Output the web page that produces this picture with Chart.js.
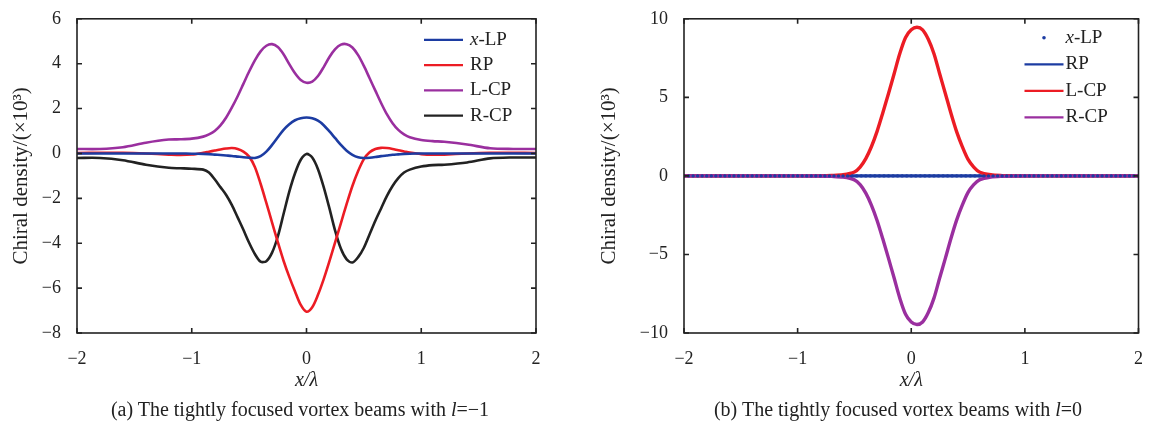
<!DOCTYPE html>
<html>
<head>
<meta charset="utf-8">
<script src="https://cdn.jsdelivr.net/npm/chart.js@4.4.1/dist/chart.umd.min.js"></script>
<style>
  body { margin: 0; background: #fff; }
  #wrap { position: relative; width: 1150px; height: 421px; overflow: hidden; }
  canvas { position: absolute; top: 0; }
  .cap { position: absolute; top: 397px; transform: translateX(-50%); white-space: nowrap;
         font-family: 'Liberation Serif', 'Times New Roman', serif; font-size: 20px; color: #222; line-height: 24px; }
</style>
</head>
<body>
<div id="wrap">
  <canvas id="chartA" width="575" height="400" style="left:0"></canvas>
  <canvas id="chartB" width="575" height="400" style="left:575px"></canvas>
  <div class="cap" style="left:300px">(a) The tightly focused vortex beams with <i>l</i>=−1</div>
  <div class="cap" style="left:898px">(b) The tightly focused vortex beams with <i>l</i>=0</div>
</div>
<script>
// (a) l = -1
var xA = [-2, -1.8, -1.6, -1.4, -1.2, -1.1, -1.0,
          -0.9, -0.85, -0.8, -0.75, -0.7, -0.65, -0.6, -0.55, -0.5, -0.45, -0.4, -0.35, -0.3, -0.25, -0.2, -0.15, -0.1, -0.05, 0,
          0.05, 0.1, 0.15, 0.2, 0.25, 0.3, 0.35, 0.4, 0.45, 0.5, 0.55, 0.6, 0.65, 0.7, 0.75, 0.8, 0.85, 0.9,
          1.0, 1.1, 1.2, 1.4, 1.6, 1.8, 2.0];
var xlpA = [0, 0, 0, 0, 0, 0, -0.01,
            -0.02, -0.03, -0.05, -0.07, -0.09, -0.11, -0.14, -0.17, -0.19, -0.2, -0.12, 0.08, 0.38, 0.72, 1.05, 1.3, 1.48, 1.57, 1.6,
            1.57, 1.46, 1.26, 0.98, 0.68, 0.38, 0.12, -0.06, -0.17, -0.2, -0.19, -0.16, -0.12, -0.09, -0.06, -0.04, -0.02, -0.01,
            0, 0, 0, 0, 0, 0, 0];
var rpA = [0.02, 0.03, 0.03, 0, -0.05, -0.07, -0.05,
           0.03, 0.08, 0.13, 0.18, 0.22, 0.24, 0.2, 0.08, -0.14, -0.6, -1.35, -2.2, -3.08, -3.95, -4.78, -5.5, -6.15, -6.75, -7.05,
           -6.85, -6.3, -5.6, -4.8, -3.95, -3.1, -2.25, -1.45, -0.78, -0.25, 0.05, 0.2, 0.25, 0.24, 0.2, 0.14, 0.09, 0.04,
           -0.03, -0.06, -0.05, 0, 0.03, 0.03, 0.02];
var lcpA = [0.2, 0.2, 0.28, 0.48, 0.62, 0.63, 0.66,
            0.75, 0.85, 1.0, 1.25, 1.6, 2.05, 2.55, 3.1, 3.65, 4.15, 4.55, 4.8, 4.87, 4.74, 4.42, 3.98, 3.57, 3.27, 3.15,
            3.2, 3.45, 3.85, 4.3, 4.65, 4.85, 4.87, 4.72, 4.38, 3.9, 3.35, 2.8, 2.25, 1.75, 1.35, 1.05, 0.85, 0.72,
            0.6, 0.55, 0.52, 0.4, 0.23, 0.2, 0.2];
var rcpA = [-0.2, -0.2, -0.3, -0.5, -0.64, -0.66, -0.68,
            -0.72, -0.85, -1.15, -1.5, -1.85, -2.3, -2.85, -3.4, -3.98, -4.48, -4.82, -4.8, -4.42, -3.7, -2.7, -1.7, -0.88, -0.28, -0.02,
            -0.18, -0.7, -1.5, -2.45, -3.45, -4.25, -4.72, -4.86, -4.62, -4.2, -3.6, -3.0, -2.45, -1.9, -1.45, -1.1, -0.85, -0.72,
            -0.58, -0.52, -0.5, -0.4, -0.22, -0.18, -0.18];

// (b) l = 0
var xB = [-2, -1.5, -1, -0.8, -0.7, -0.6, -0.5, -0.45, -0.4, -0.35, -0.3, -0.25, -0.2, -0.15, -0.1, -0.05, 0,
          0.05, 0.1, 0.15, 0.2, 0.25, 0.3, 0.35, 0.4, 0.45, 0.5, 0.55, 0.6, 0.7, 0.8, 0.9, 1, 1.5, 2];
var rpB = [0, 0, 0, 0, 0, 0, 0, 0, 0, 0, 0, 0, 0, 0, 0, 0, 0, 0, 0, 0, 0, 0, 0, 0, 0, 0, 0, 0, 0, 0, 0, 0, 0, 0, 0];
var lcpB = [0, 0, 0, 0.01, 0.03, 0.08, 0.25, 0.56, 1.1, 1.87, 2.85, 4.02, 5.25, 6.52, 7.8, 8.81, 9.3,
            9.46, 9.3, 8.7, 7.78, 6.5, 5.25, 3.97, 2.8, 1.85, 1.05, 0.56, 0.25, 0.07, 0.02, 0.01, 0, 0, 0];
var rcpB = [0, 0, 0, -0.01, -0.03, -0.08, -0.25, -0.56, -1.1, -1.87, -2.85, -4.02, -5.25, -6.52, -7.8, -8.81, -9.3,
            -9.46, -9.3, -8.7, -7.78, -6.5, -5.25, -3.97, -2.8, -1.85, -1.05, -0.56, -0.25, -0.07, -0.02, -0.01, 0, 0, 0];
// x-LP in (b) is plotted as dots
var xDots = [-2, -1.96, -1.92, -1.88, -1.84, -1.8, -1.76, -1.72, -1.68, -1.64, -1.6, -1.56, -1.52, -1.48, -1.44, -1.4, -1.36, -1.32, -1.28, -1.24,
             -1.2, -1.16, -1.12, -1.08, -1.04, -1, -0.96, -0.92, -0.88, -0.84, -0.8, -0.76, -0.72, -0.68, -0.64, -0.6, -0.56, -0.52, -0.48, -0.44,
             -0.4, -0.36, -0.32, -0.28, -0.24, -0.2, -0.16, -0.12, -0.08, -0.04, 0, 0.04, 0.08, 0.12, 0.16, 0.2, 0.24, 0.28, 0.32, 0.36,
             0.4, 0.44, 0.48, 0.52, 0.56, 0.6, 0.64, 0.68, 0.72, 0.76, 0.8, 0.84, 0.88, 0.92, 0.96, 1, 1.04, 1.08, 1.12, 1.16,
             1.2, 1.24, 1.28, 1.32, 1.36, 1.4, 1.44, 1.48, 1.52, 1.56, 1.6, 1.64, 1.68, 1.72, 1.76, 1.8, 1.84, 1.88, 1.92, 1.96, 2];
var xlpB = [0, 0, 0, 0, 0, 0, 0, 0, 0, 0, 0, 0, 0, 0, 0, 0, 0, 0, 0, 0, 0, 0, 0, 0, 0, 0, 0, 0, 0, 0, 0, 0, 0, 0, 0, 0, 0, 0, 0, 0,
            0, 0, 0, 0, 0, 0, 0, 0, 0, 0, 0, 0, 0, 0, 0, 0, 0, 0, 0, 0, 0, 0, 0, 0, 0, 0, 0, 0, 0, 0, 0, 0, 0, 0, 0, 0, 0, 0, 0, 0,
            0, 0, 0, 0, 0, 0, 0, 0, 0, 0, 0, 0, 0, 0, 0, 0, 0, 0, 0, 0, 0];

var BLUE = '#1c3ca2', RED = '#ec1c24', PURPLE = '#9a2f9f', BLACK = '#222';
var SERIF = "'Liberation Serif', 'Times New Roman', serif";

Chart.defaults.font.family = SERIF;
Chart.defaults.color = '#222';

function pts(xs, ys) {
    return xs.map(function (x, i) { return { x: x, y: ys[i] }; });
}
function minus(v) { return String(v).replace('-', '\u2212'); }

// box round the plot with inward tick marks, like the original figure
var boxPlugin = {
    id: 'box',
    afterDatasetsDraw: function (chart) {
        var ctx = chart.ctx, a = chart.chartArea, sx = chart.scales.x, sy = chart.scales.y;
        ctx.save();
        ctx.strokeStyle = '#222';
        ctx.lineWidth = 1.6;
        ctx.strokeRect(a.left, a.top, a.right - a.left, a.bottom - a.top);
        ctx.beginPath();
        sx.ticks.forEach(function (t) {
            var p = sx.getPixelForValue(t.value);
            ctx.moveTo(p, a.bottom); ctx.lineTo(p, a.bottom - 5);
            ctx.moveTo(p, a.top); ctx.lineTo(p, a.top + 5);
        });
        sy.ticks.forEach(function (t) {
            var p = sy.getPixelForValue(t.value);
            ctx.moveTo(a.left, p); ctx.lineTo(a.left + 5, p);
            ctx.moveTo(a.right, p); ctx.lineTo(a.right - 5, p);
        });
        ctx.stroke();
        ctx.restore();
    }
};

// legend inside the plot, top right
var legendPlugin = {
    id: 'inLegend',
    afterDraw: function (chart, args, opts) {
        var ctx = chart.ctx, a = chart.chartArea;
        ctx.save();
        ctx.textBaseline = 'middle';
        chart.data.datasets.forEach(function (ds, i) {
            var y = a.top + opts.top + i * opts.step;
            var x0 = a.right - opts.lineStart, x1 = a.right - opts.lineEnd;
            if (ds.showLine === false) {
                ctx.fillStyle = ds.borderColor;
                ctx.beginPath();
                ctx.arc((x0 + x1) / 2, y, 1.8, 0, Math.PI * 2);
                ctx.fill();
            } else {
                ctx.strokeStyle = ds.borderColor;
                ctx.lineWidth = 2.2;
                ctx.beginPath();
                ctx.moveTo(x0, y); ctx.lineTo(x1, y);
                ctx.stroke();
            }
            ctx.fillStyle = '#222';
            var tx = a.right - opts.text;
            var label = ds.label;
            if (label.indexOf('x-') === 0) {
                ctx.font = 'italic 19px ' + SERIF;
                ctx.fillText('x', tx, y);
                tx += ctx.measureText('x').width;
                label = label.slice(1);
            }
            ctx.font = '19px ' + SERIF;
            ctx.fillText(label, tx, y);
        });
        ctx.restore();
    }
};

function makeOptions(cfg) {
    return {
        responsive: false,
        animation: false,
        layout: { padding: { left: 0, right: cfg.padRight, top: 18, bottom: 0 } },
        plugins: {
            legend: { display: false },
            tooltip: { enabled: false },
            inLegend: cfg.legend
        },
        elements: { point: { radius: 0 }, line: { tension: 0.3 } },
        scales: {
            x: {
                type: 'linear', min: -2, max: 2,
                ticks: { stepSize: 1, padding: 7, font: { size: 18 }, callback: minus, maxRotation: 0 },
                grid: { display: false },
                border: { display: false },
                title: { display: true, text: 'x/\u03bb', font: { size: 20, style: 'italic' }, padding: { top: 0, bottom: 7 } },
                afterFit: function (s) { s.height = 67; }
            },
            y: {
                min: cfg.yMin, max: cfg.yMax,
                ticks: { stepSize: cfg.yStep, padding: 8, font: { size: 18 }, callback: minus },
                grid: { display: false },
                border: { display: false },
                title: { display: true, text: 'Chiral density/(\u00d710\u00b3)', font: { size: 21 }, padding: { top: cfg.titlePad, bottom: 0 } },
                afterFit: function (s) { s.width = cfg.yWidth; }
            }
        }
    };
}

new Chart(document.getElementById('chartA'), {
    type: 'line',
    data: {
        datasets: [
            { label: 'x-LP', data: pts(xA, xlpA), borderColor: BLUE, borderWidth: 2.6 },
            { label: 'RP', data: pts(xA, rpA), borderColor: RED, borderWidth: 2.6 },
            { label: 'L-CP', data: pts(xA, lcpA), borderColor: PURPLE, borderWidth: 2.6 },
            { label: 'R-CP', data: pts(xA, rcpA), borderColor: BLACK, borderWidth: 2.6 }
        ]
    },
    options: makeOptions({
        padRight: 39, yMin: -8, yMax: 6, yStep: 2, yWidth: 77, titlePad: 9,
        legend: { top: 21, step: 25.3, lineStart: 112, lineEnd: 73, text: 66 }
    }),
    plugins: [boxPlugin, legendPlugin]
});

new Chart(document.getElementById('chartB'), {
    type: 'line',
    data: {
        datasets: [
            { label: 'x-LP', data: pts(xDots, xlpB), borderColor: BLUE, backgroundColor: BLUE, showLine: false,
              pointRadius: 1.7, pointBorderWidth: 0, order: 0 },
            { label: 'RP', data: pts(xB, rpB), borderColor: BLUE, borderWidth: 3.4, order: 3 },
            { label: 'L-CP', data: pts(xB, lcpB), borderColor: RED, borderWidth: 3.4, order: 2 },
            { label: 'R-CP', data: pts(xB, rcpB), borderColor: PURPLE, borderWidth: 3.4, order: 1 }
        ]
    },
    options: makeOptions({
        padRight: 11, yMin: -10, yMax: 10, yStep: 5, yWidth: 109, titlePad: 22,
        legend: { top: 19, step: 26.5, lineStart: 114, lineEnd: 75, text: 73 }
    }),
    plugins: [boxPlugin, legendPlugin]
});
</script>
</body>
</html>
